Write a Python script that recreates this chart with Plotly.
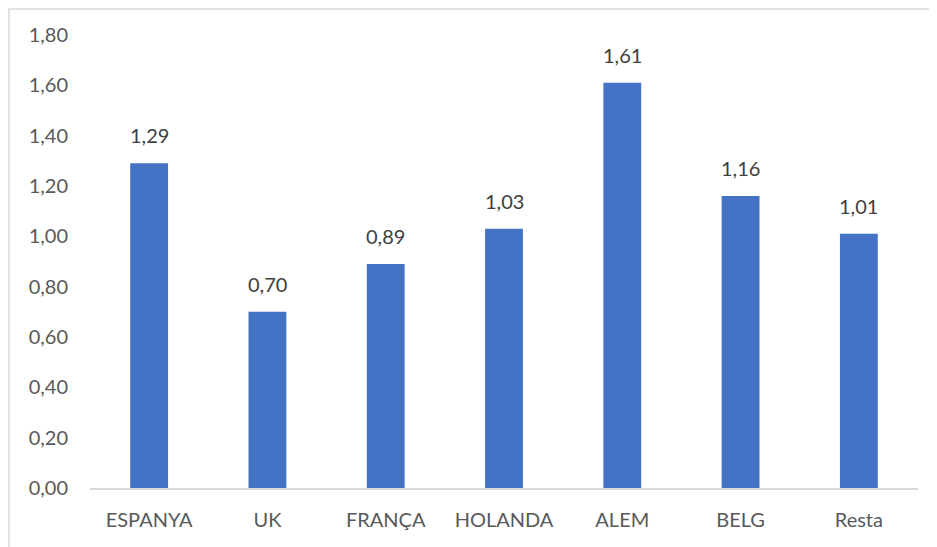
import plotly.graph_objects as go

categories = ["ESPANYA", "UK", "FRANÇA", "HOLANDA", "ALEM", "BELG", "Resta"]
values = [1.29, 0.70, 0.89, 1.03, 1.61, 1.16, 1.01]
tick_vals = [0, 0.2, 0.4, 0.6, 0.8, 1.0, 1.2, 1.4, 1.6, 1.8]

labels = [f"{v:.2f}".replace(".", ",") for v in values]

L, R, T, B = 82, 27, 27, 67
W, H = 937, 547
pw, ph = W - L - R, H - T - B

fig = go.Figure(go.Bar(
    x=categories, y=values,
    marker=dict(color="#4472C4", line=dict(width=0)),
))

for c, v, t in zip(categories, values, labels):
    fig.add_annotation(x=c, y=v, text=t, showarrow=False, yanchor="bottom",
                       yshift=14, font=dict(family="Lato", size=20, color="#404040"))

fig.update_layout(
    width=W, height=H,
    margin=dict(l=L, r=R, t=T, b=B, autoexpand=False),
    paper_bgcolor="white", plot_bgcolor="white",
    separators=",.",
    bargap=0.68,
    showlegend=False,
    font=dict(family="Lato", size=20, color="#595959"),
    xaxis=dict(showgrid=False, showline=True, linecolor="#D9D9D9", linewidth=1.5,
               ticks="", ticklabelstandoff=13, tickfont=dict(size=20, color="#595959")),
    yaxis=dict(range=[0, 1.8], tickvals=tick_vals, tickformat=".2f", showgrid=False,
               zeroline=False, showline=False, ticks="", ticklabelstandoff=21,
               tickfont=dict(size=20, color="#595959")),
    shapes=[dict(type="rect", xref="paper", yref="paper",
                 x0=(1 - L) / pw, x1=1.2, y0=-0.3, y1=(ph + T - 1) / ph,
                 line=dict(color="#D9D9D9", width=1.5), fillcolor="rgba(0,0,0,0)")],
)

fig.write_html("out.html")
